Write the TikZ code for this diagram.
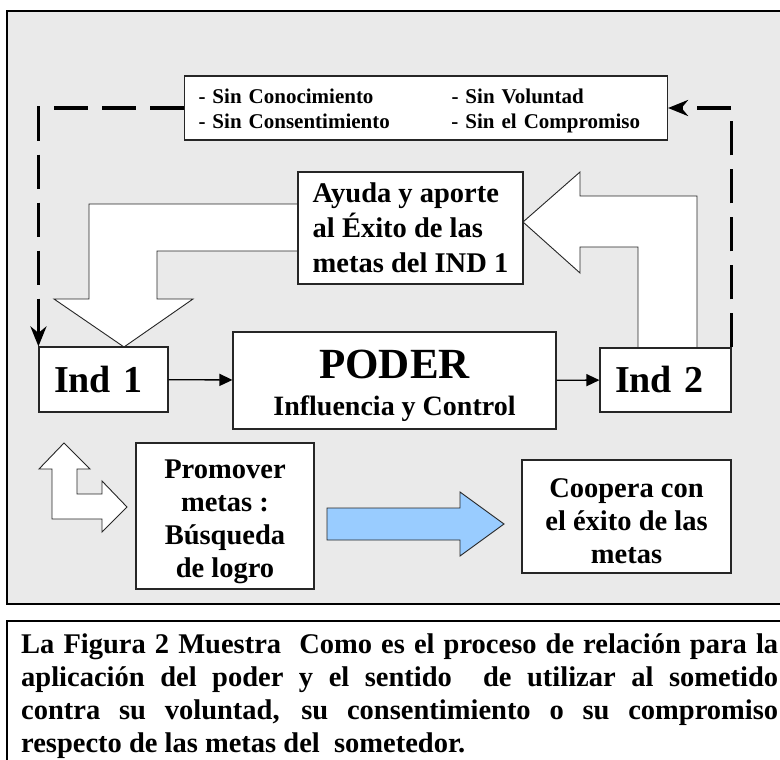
\documentclass[tikz,border=0pt]{standalone}
\usepackage{fontspec}
\setmainfont{Liberation Serif}
\usetikzlibrary{arrows.meta}
\definecolor{panel}{HTML}{EAEAEA}
\definecolor{skyblue}{HTML}{99CCFF}

\begin{document}
\begin{tikzpicture}[x=1pt, y=-1pt,
  box/.style = {draw=black!85, line width=1.1pt, fill=white, inner sep=0pt, font=\bfseries},
  backline/.style = {line width=3.4pt, dash pattern=on 34pt off 14pt, -{Stealth[length=20pt, width=16pt]}},
  thinarrow/.style = {line width=1.3pt, -{Triangle[length=13pt, width=12pt]}},
  blockarrow/.style = {draw=black!85, line width=0.9pt, fill=white},
  ]
\useasboundingbox (0,0) rectangle (780,760);
\draw[line width=1.3pt, fill=panel] (7,11) rectangle (800,604);
\draw[line width=1.3pt, fill=white] (7,621) rectangle (800,790);

\draw[blockarrow] (310,204) -- (89,204) -- (89,299) -- (54,299) -- (124,347) -- (193,299) -- (157,299) -- (157,251) -- (310,251);
\draw[blockarrow] (523,222) -- (580,172) -- (580,196) -- (697,196) -- (697,348) -- (638,348) -- (638,247) -- (580,247) -- (580,273) -- cycle;
\draw[blockarrow] (52,519) -- (52,469) -- (39,469) -- (64,443) -- (90,469) -- (77,469) -- (77,494) -- (102,494) -- (102,481) -- (127,507) -- (102,532) -- (102,519) -- cycle;
\draw[blockarrow, fill=skyblue] (327,508) -- (460,508) -- (460,492) -- (504,524) -- (460,556) -- (460,540) -- (327,540) -- cycle;

\node[box, text width=455pt, inner xsep=14pt, minimum height=64pt, align=left, font=\bfseries\fontsize{21}{25}\selectfont] (sin) at (426,108)
  {\begin{tabular}{@{}p{253pt}@{}l@{}}\rule{0pt}{24pt}- Sin Conocimiento & - Sin Voluntad\\- Sin Consentimiento & - Sin el Compromiso\end{tabular}};
\node[box, minimum width=225pt, minimum height=112pt, align=left, font=\bfseries\fontsize{28.5}{35}\selectfont] (ayuda) at (410.5,228)
  {Ayuda y aporte\\al Éxito de las\\metas del IND 1};
\node[box, text width=99pt, inner xsep=15pt, minimum height=65pt, align=left, font=\bfseries\fontsize{38}{40}\selectfont] (ind1) at (103.5,379.5) {Ind 1};
\node[box, minimum width=323pt, minimum height=97pt, align=center, font=\bfseries\fontsize{28}{37}\selectfont] (poder) at (394.5,380.5)
  {\rule{0pt}{40pt}{\fontsize{43}{37}\selectfont PODER}\\Influencia y Control};
\node[box, text width=101pt, inner xsep=15pt, minimum height=64pt, align=left, font=\bfseries\fontsize{38}{40}\selectfont] (ind2) at (665.5,380) {Ind 2};
\node[box, minimum width=178pt, minimum height=146pt, align=center, font=\bfseries\fontsize{28.5}{33}\selectfont] (prom) at (225,516)
  {\rule{0pt}{31pt}Promover\\metas :\\Búsqueda\\de logro};
\node[box, minimum width=209pt, minimum height=113pt, align=center, font=\bfseries\fontsize{28.5}{33}\selectfont] (coop) at (626.5,516.5)
  {\rule{0pt}{29pt}Coopera con\\el éxito de las\\metas};

\draw[thinarrow] (ind1) -- (poder);
\draw[thinarrow] (poder) -- (ind2);
\draw[backline] (sin.west) -| (ind1.north west);
\draw[backline] (ind2.north east) |- (sin.east);

\node[anchor=north west, text width=757pt, align=justify, inner sep=0pt, font=\bfseries\fontsize{28.5}{33}\selectfont] (cap) at (21,633)
  {La Figura 2 Muestra\ \ Como es el proceso de relación para la\linebreak
   aplicación del poder y el sentido\ \ de utilizar al sometido\linebreak
   contra su voluntad, su consentimiento o su compromiso\linebreak
   respecto de las metas del\ \ sometedor.};
\end{tikzpicture}
\end{document}
